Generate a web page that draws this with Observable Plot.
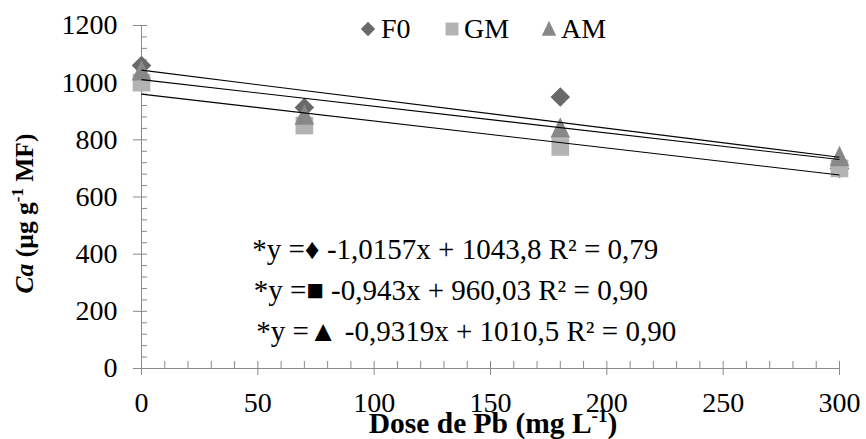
<!DOCTYPE html>
<html>
<head>
<meta charset="utf-8">
<script src="https://cdn.jsdelivr.net/npm/d3@7"></script>
<script src="https://cdn.jsdelivr.net/npm/@observablehq/plot@0.6"></script>
<style>
  html, body { margin: 0; padding: 0; background: #fff; }
  #chart { position: relative; width: 866px; height: 439px; }
  #chart svg, #chart svg text { font-family: 'Liberation Serif', 'DejaVu Serif', serif !important; }
</style>
</head>
<body>
<div id="chart"></div>
<script>
// ---- data ----
const doses = [0, 70, 180, 300];
const seriesNames = ["F0", "GM", "AM"];
const f0Values = [1060, 913, 950, 700];
const gmValues = [1000, 850, 775, 700];
const amValues = [1040, 885, 840, 740];
const slopes = [-1.0157, -0.943, -0.9319];
const intercepts = [1043.8, 960.03, 1010.5];
const equations = [
  "*y =\u2666 -1,0157x + 1043,8 R\u00b2 = 0,79",
  "*y =\u25a0 -0,943x + 960,03 R\u00b2 = 0,90",
  "*y =\u25b2 -0,9319x + 1010,5 R\u00b2 = 0,90"
];
const xTicks = [0, 50, 100, 150, 200, 250, 300];
const yTicks = [0, 200, 400, 600, 800, 1000, 1200];
const xMinorTicks = d3.range(0, 301, 10);
const yMinorTicks = d3.range(0, 1201, 40);

// ---- styles ----
const serif = "'Liberation Serif', 'DejaVu Serif', serif";
const colors = {F0: "#696969", GM: "#b3b3b3", AM: "#888888"};
const axisGray = "#8a8a8a";

const diamond = {draw(ctx, size) { const r = Math.sqrt(size / Math.PI);
  ctx.moveTo(0, -r); ctx.lineTo(r, 0); ctx.lineTo(0, r); ctx.lineTo(-r, 0); ctx.closePath(); }};
const square = {draw(ctx, size) { const r = Math.sqrt(size / Math.PI) * 0.9;
  ctx.rect(-r, -r, 2 * r, 2 * r); }};
const triangle = {draw(ctx, size) { const r = Math.sqrt(size / Math.PI);
  ctx.moveTo(0, -1.15 * r); ctx.lineTo(r, 0.95 * r); ctx.lineTo(-r, 0.95 * r); ctx.closePath(); }};
const symbols = {F0: diamond, GM: square, AM: triangle};

const rows = [];
[f0Values, gmValues, amValues].forEach((vals, s) => {
  vals.forEach((v, i) => rows.push({series: seriesNames[s], dose: doses[i], value: v}));
});
const trends = seriesNames.map((name, i) => ({
  series: name,
  x1: doses[0], y1: intercepts[i],
  x2: doses[doses.length - 1], y2: intercepts[i] + slopes[i] * doses[doses.length - 1]
}));
const eqRows = equations.map((t, i) => ({text: t, i}));

const plot = Plot.plot({
  width: 866,
  height: 439,
  marginLeft: 141,
  marginRight: 27,
  marginTop: 25,
  marginBottom: 71,
  style: {fontFamily: serif, background: "#fff", overflow: "visible"},
  x: {domain: [0, 300]},
  y: {domain: [0, 1200]},
  marks: [
    Plot.axisY({ticks: yMinorTicks, tickSize: -6, tickFormat: () => "", stroke: axisGray, label: null}),
    Plot.axisX({ticks: xMinorTicks, tickSize: -7, tickFormat: () => "", stroke: axisGray, label: null}),
    Plot.axisY({ticks: yTicks, tickSize: 8, tickPadding: 16, tickFormat: d => String(d), stroke: axisGray, color: "black", fontSize: 28, label: null}),
    Plot.axisX({ticks: xTicks, tickSize: 7, tickPadding: 17, tickFormat: d => String(d), stroke: axisGray, color: "black", fontSize: 28, label: null}),
    Plot.ruleX([0], {stroke: axisGray}),
    Plot.ruleY([0], {stroke: axisGray}),
    Plot.dot(rows, {x: "dose", y: "value", r: 9.8, symbol: d => symbols[d.series],
      fill: d => colors[d.series], stroke: "none"}),
    Plot.link(trends, {x1: "x1", y1: "y1", x2: "x2", y2: "y2", stroke: "black", strokeWidth: 1.1}),
    Plot.text(eqRows, {
      text: "text",
      x: d => [47.6, 48.2, 49.3][d.i],
      y: d => [416, 273, 127][d.i],
      textAnchor: "start", fontSize: 29, fill: "black"
    })
  ]
});
document.getElementById("chart").appendChild(plot);

// ---- titles and legend ----
const svg = d3.select(plot);
const xs = plot.scale("x"), ys = plot.scale("y");
const cx = (xs.range[0] + xs.range[1]) / 2;

const xt = svg.append("text")
  .attr("x", cx + 3).attr("y", 433)
  .attr("text-anchor", "middle")
  .attr("font-size", 29.5).attr("font-weight", "bold").attr("fill", "black")
  .style("font-family", serif);
xt.append("tspan").text("Dose de Pb (mg L");
xt.append("tspan").text("-1").attr("font-size", 19).attr("dy", -11);
xt.append("tspan").text(")").attr("dy", 11);

const yMid = (ys.range[0] + ys.range[1]) / 2;
const yt = svg.append("text")
  .attr("transform", `translate(33,${yMid + 17}) rotate(-90)`)
  .attr("text-anchor", "middle")
  .attr("font-size", 25.5).attr("font-weight", "bold").attr("fill", "black")
  .style("font-family", serif);
yt.append("tspan").text("Ca").attr("font-style", "italic");
yt.append("tspan").text(" (\u00b5g g");
yt.append("tspan").text("-1").attr("font-size", 17).attr("dy", -10);
yt.append("tspan").text(" MF)").attr("dy", 10);

const legendItems = [
  {name: "F0", sx: 368, tx: 381},
  {name: "GM", sx: 452, tx: 464},
  {name: "AM", sx: 549, tx: 561}
];
const lg = svg.append("g");
legendItems.forEach(it => {
  const path = d3.path();
  symbols[it.name].draw(path, 7.2 * 7.2 * Math.PI);
  lg.append("path").attr("d", path.toString())
    .attr("transform", `translate(${it.sx},29)`)
    .attr("fill", colors[it.name]);
  lg.append("text").attr("x", it.tx).attr("y", 38)
    .attr("text-anchor", "start")
    .attr("font-size", 28).attr("fill", "black")
    .style("font-family", serif)
    .text(it.name);
});
</script>
</body>
</html>
